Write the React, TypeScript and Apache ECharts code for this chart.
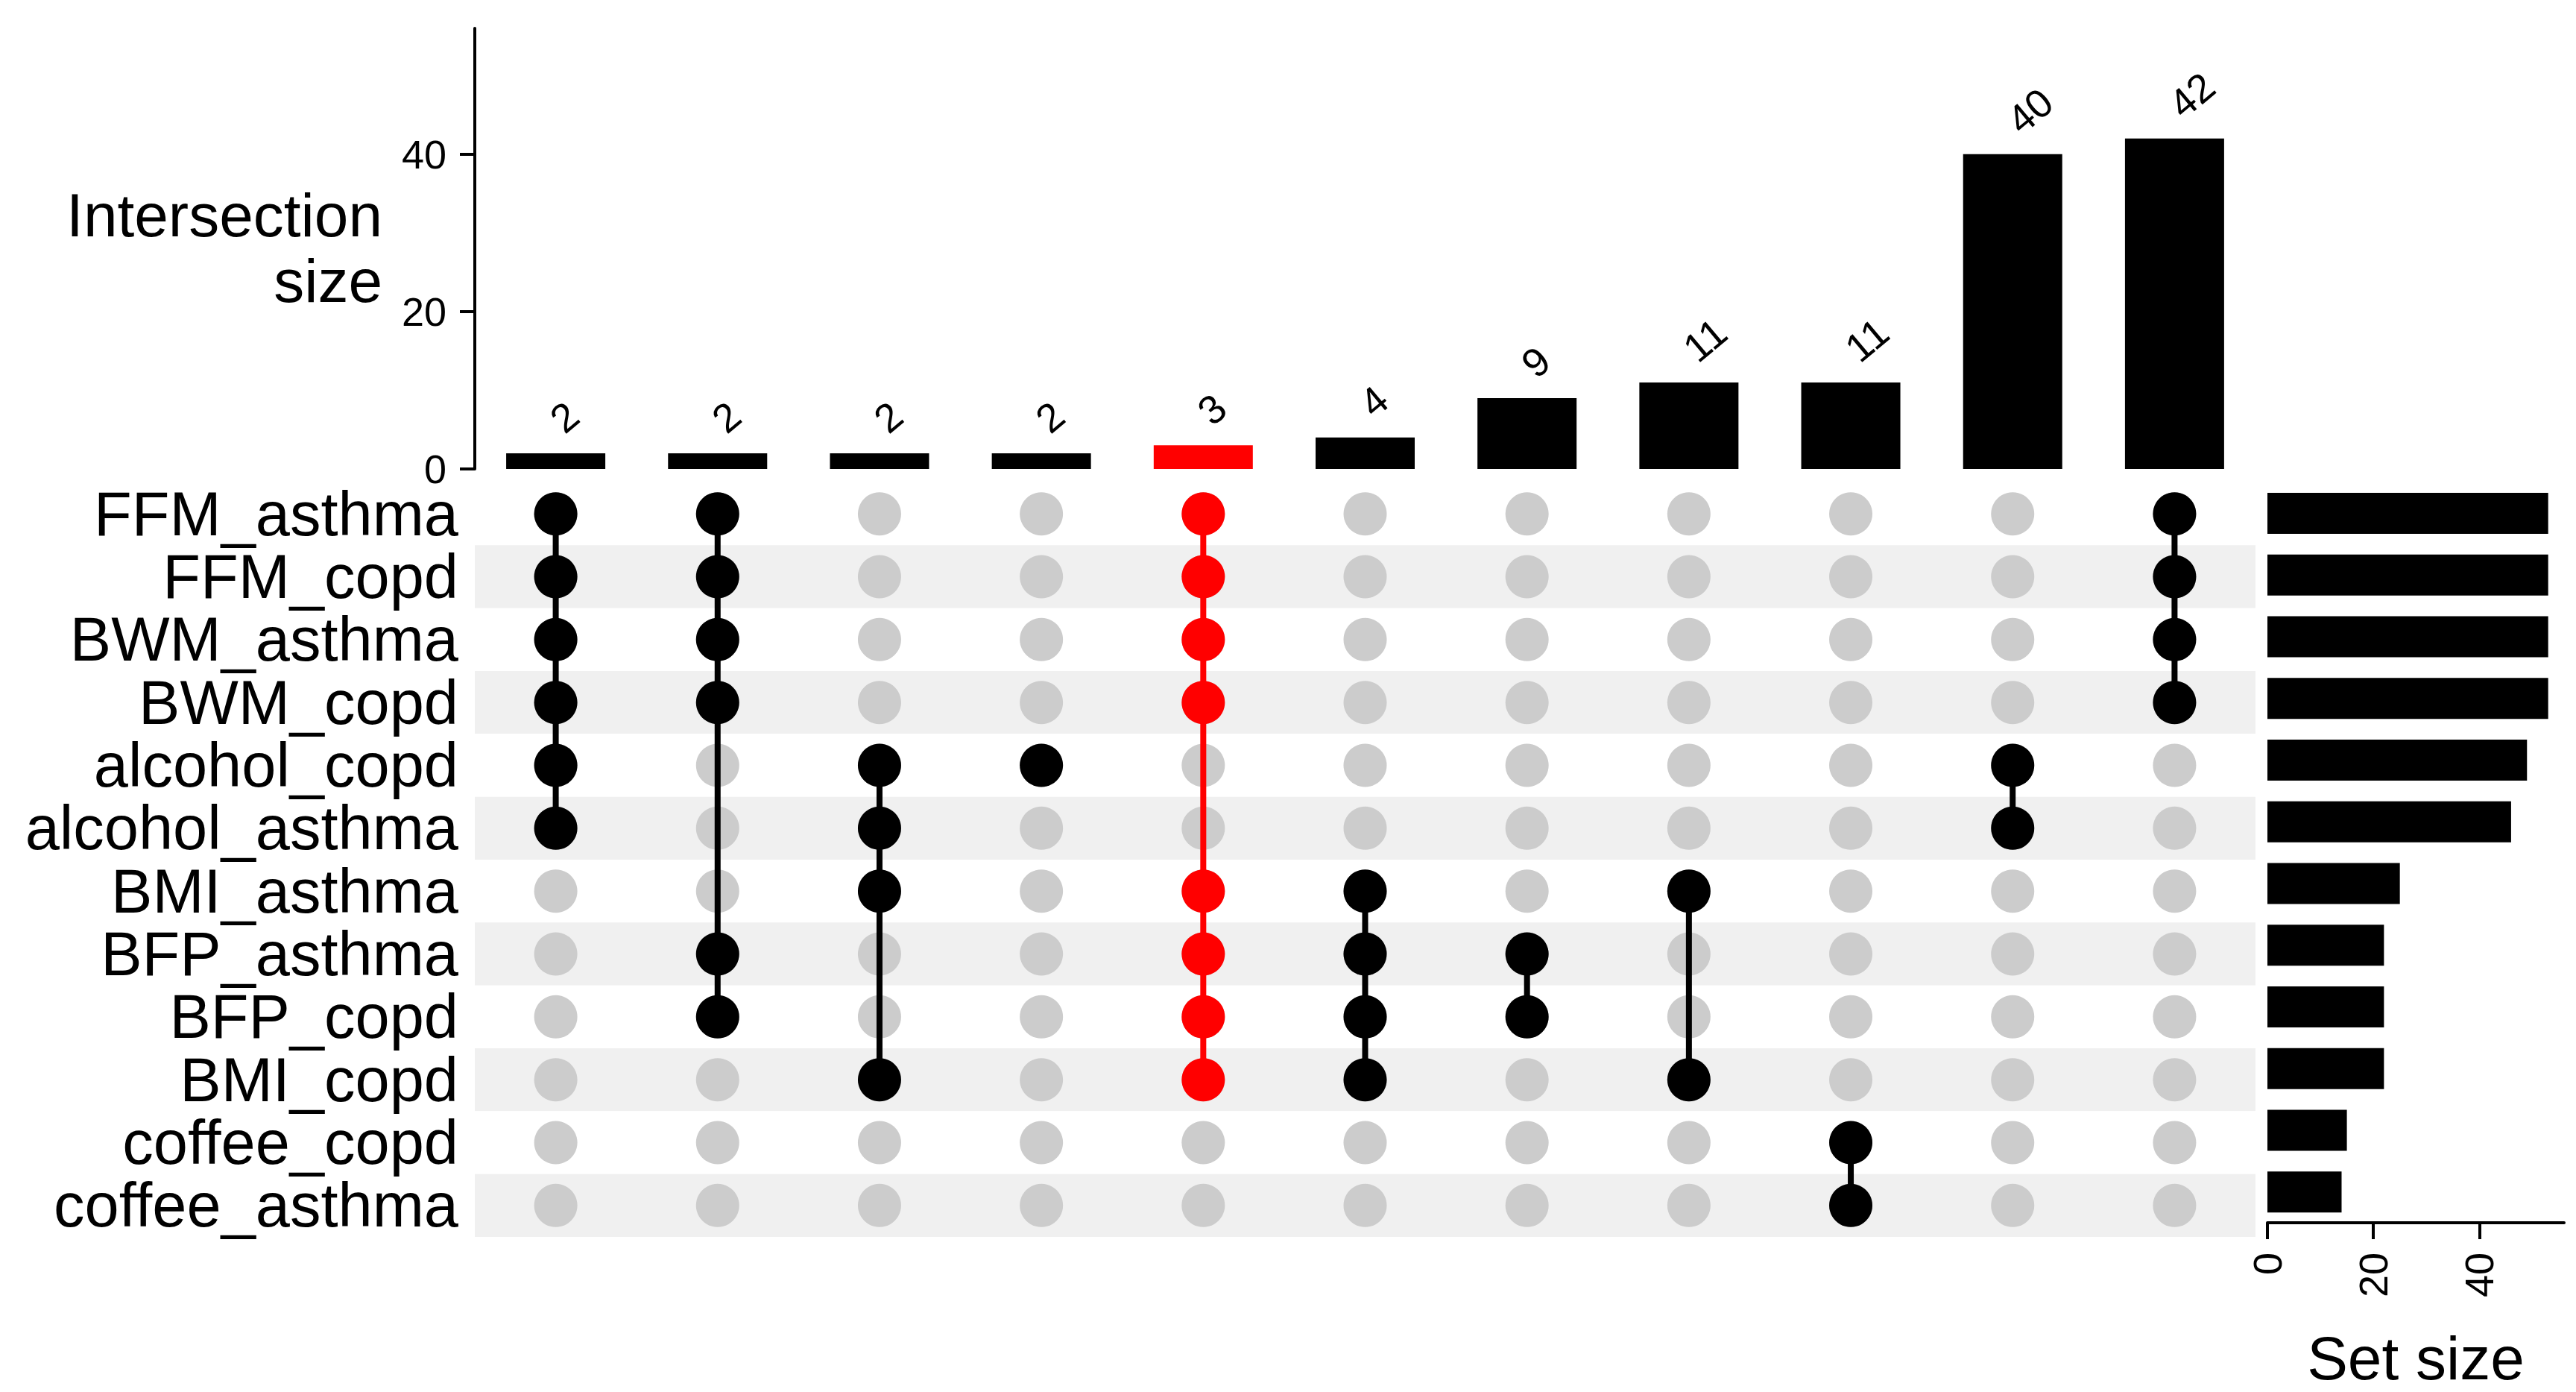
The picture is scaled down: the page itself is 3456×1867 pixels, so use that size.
import React, { useEffect, useRef } from "react";
import * as echarts from "echarts";

const sets = [
  "FFM_asthma",
  "FFM_copd",
  "BWM_asthma",
  "BWM_copd",
  "alcohol_copd",
  "alcohol_asthma",
  "BMI_asthma",
  "BFP_asthma",
  "BFP_copd",
  "BMI_copd",
  "coffee_copd",
  "coffee_asthma",
];
const setSizes = [53, 53, 53, 53, 49, 46, 25, 22, 22, 22, 15, 14];

const intersectionNames = ["i1", "i2", "i3", "i4", "i5", "i6", "i7", "i8", "i9", "i10", "i11"];
const intersectionSizes = [2, 2, 2, 2, 3, 4, 9, 11, 11, 40, 42];
const intersectionMembers = [
  ["FFM_asthma", "FFM_copd", "BWM_asthma", "BWM_copd", "alcohol_copd", "alcohol_asthma"],
  ["FFM_asthma", "FFM_copd", "BWM_asthma", "BWM_copd", "BFP_asthma", "BFP_copd"],
  ["alcohol_copd", "alcohol_asthma", "BMI_asthma", "BMI_copd"],
  ["alcohol_copd"],
  ["FFM_asthma", "FFM_copd", "BWM_asthma", "BWM_copd", "BMI_asthma", "BFP_asthma", "BFP_copd", "BMI_copd"],
  ["BMI_asthma", "BFP_asthma", "BFP_copd", "BMI_copd"],
  ["BFP_asthma", "BFP_copd"],
  ["BMI_asthma", "BMI_copd"],
  ["coffee_copd", "coffee_asthma"],
  ["alcohol_copd", "alcohol_asthma"],
  ["FFM_asthma", "FFM_copd", "BWM_asthma", "BWM_copd"],
];
const highlightedIntersections = [4];
const intersectionTicks = [0, 20, 40];
const setSizeTicks = [0, 20, 40];

const FONT = "'Liberation Sans', Arial, Helvetica, sans-serif";
const BLACK = "#000000";
const RED = "#FF0000";
const GREY_DOT = "#CCCCCC";
const STRIPE = "#F0F0F0";

export default function App() {
  const ref = useRef<HTMLDivElement>(null);

  useEffect(() => {
    if (!ref.current) return;
    const chart = echarts.init(ref.current, undefined, { renderer: "svg" });

    const colorOf = (i: number) => (highlightedIntersections.includes(i) ? RED : BLACK);

    const greyDots: number[][] = [];
    intersectionNames.forEach((_, c) => sets.forEach((_s, r) => greyDots.push([c, r])));

    const blackDots: number[][] = [];
    const redDots: number[][] = [];
    const lineData: number[][] = [];
    intersectionMembers.forEach((members, c) => {
      const rows = members.map((m) => sets.indexOf(m));
      rows.forEach((r) => (highlightedIntersections.includes(c) ? redDots : blackDots).push([c, r]));
      lineData.push([c, Math.min(...rows), Math.max(...rows)]);
    });

    const gridLeft = 637;
    const gridWidth = 2389;
    const matrixTop = 647;
    const matrixHeight = 1012;

    chart.setOption({
      animation: false,
      backgroundColor: "#ffffff",
      textStyle: { fontFamily: FONT },
      grid: [
        { left: gridLeft, width: gridWidth, top: 38, height: 591 },
        { left: gridLeft, width: gridWidth, top: matrixTop, height: matrixHeight },
        { left: 3042, width: 398, top: matrixTop, height: matrixHeight },
      ],
      xAxis: [
        { gridIndex: 0, type: "category", data: intersectionNames, show: false },
        { gridIndex: 1, type: "category", data: intersectionNames, show: false },
        {
          gridIndex: 2,
          type: "value",
          min: 0,
          max: 56,
          splitLine: { show: false },
          axisLine: { show: true, lineStyle: { color: BLACK, width: 4 } },
          axisTick: { show: true, length: 22, lineStyle: { color: BLACK, width: 4 }, customValues: setSizeTicks },
          axisLabel: {
            customValues: setSizeTicks,
            rotate: 90,
            margin: 40,
            fontSize: 54,
            color: BLACK,
            fontFamily: FONT,
          },
          name: "Set size",
          nameLocation: "middle",
          nameGap: 140,
          nameTextStyle: { fontSize: 82, color: BLACK, fontFamily: FONT },
        },
      ],
      yAxis: [
        {
          gridIndex: 0,
          type: "value",
          min: 0,
          max: 56,
          splitLine: { show: false },
          axisLine: { show: true, lineStyle: { color: BLACK, width: 4 } },
          axisTick: { show: true, length: 20, lineStyle: { color: BLACK, width: 4 }, customValues: intersectionTicks },
          axisLabel: { customValues: intersectionTicks, margin: 38, fontSize: 54, color: BLACK, fontFamily: FONT },
        },
        {
          gridIndex: 1,
          type: "category",
          data: sets,
          inverse: true,
          axisLine: { show: false },
          axisTick: { show: false, interval: 0 },
          axisLabel: { interval: 0, margin: 22, fontSize: 83, color: BLACK, fontFamily: FONT },
          splitLine: { show: false, interval: 0 },
          splitArea: { show: true, interval: 0, areaStyle: { color: ["#FFFFFF", STRIPE] } },
        },
        {
          gridIndex: 2,
          type: "category",
          data: sets,
          inverse: true,
          show: false,
        },
      ],
      series: [
        {
          type: "bar",
          xAxisIndex: 0,
          yAxisIndex: 0,
          barWidth: 133,
          data: intersectionSizes.map((v, i) => ({ value: v, itemStyle: { color: colorOf(i) } })),
          label: {
            show: true,
            position: "top",
            distance: 39,
            rotate: 40,
            align: "left",
            verticalAlign: "middle",
            fontSize: 54,
            color: BLACK,
            fontFamily: FONT,
          },
        },
        {
          type: "scatter",
          xAxisIndex: 1,
          yAxisIndex: 1,
          symbol: "circle",
          symbolSize: 58,
          itemStyle: { color: GREY_DOT, opacity: 1 },
          data: greyDots,
          z: 2,
          silent: true,
        },
        {
          type: "custom",
          xAxisIndex: 1,
          yAxisIndex: 1,
          z: 3,
          silent: true,
          data: lineData,
          renderItem: (params: any, api: any) => {
            const c = api.value(0);
            const p0 = api.coord([c, api.value(1)]);
            const p1 = api.coord([c, api.value(2)]);
            return {
              type: "line",
              shape: { x1: p0[0], y1: p0[1], x2: p1[0], y2: p1[1] },
              style: { stroke: colorOf(lineData[params.dataIndex][0]), lineWidth: 8, opacity: 1 },
            };
          },
        },
        {
          type: "scatter",
          xAxisIndex: 1,
          yAxisIndex: 1,
          symbol: "circle",
          symbolSize: 58,
          itemStyle: { color: BLACK, opacity: 1 },
          data: blackDots,
          z: 4,
          silent: true,
        },
        {
          type: "scatter",
          xAxisIndex: 1,
          yAxisIndex: 1,
          symbol: "circle",
          symbolSize: 58,
          itemStyle: { color: RED, opacity: 1 },
          data: redDots,
          z: 4,
          silent: true,
        },
        {
          type: "bar",
          xAxisIndex: 2,
          yAxisIndex: 2,
          barWidth: 55,
          itemStyle: { color: BLACK },
          data: setSizes,
        },
      ],
      graphic: [
        {
          type: "text",
          x: 513,
          y: 332,
          style: {
            text: "Intersection\nsize",
            align: "right",
            verticalAlign: "middle",
            fontSize: 82,
            lineHeight: 88,
            fontFamily: FONT,
            fill: BLACK,
          },
        },
      ],
    });

    return () => chart.dispose();
  }, []);

  return (
    <div
      ref={ref}
      style={{ position: "fixed", left: 0, top: 0, width: 3456, height: 1867, background: "#fff" }}
    />
  );
}
